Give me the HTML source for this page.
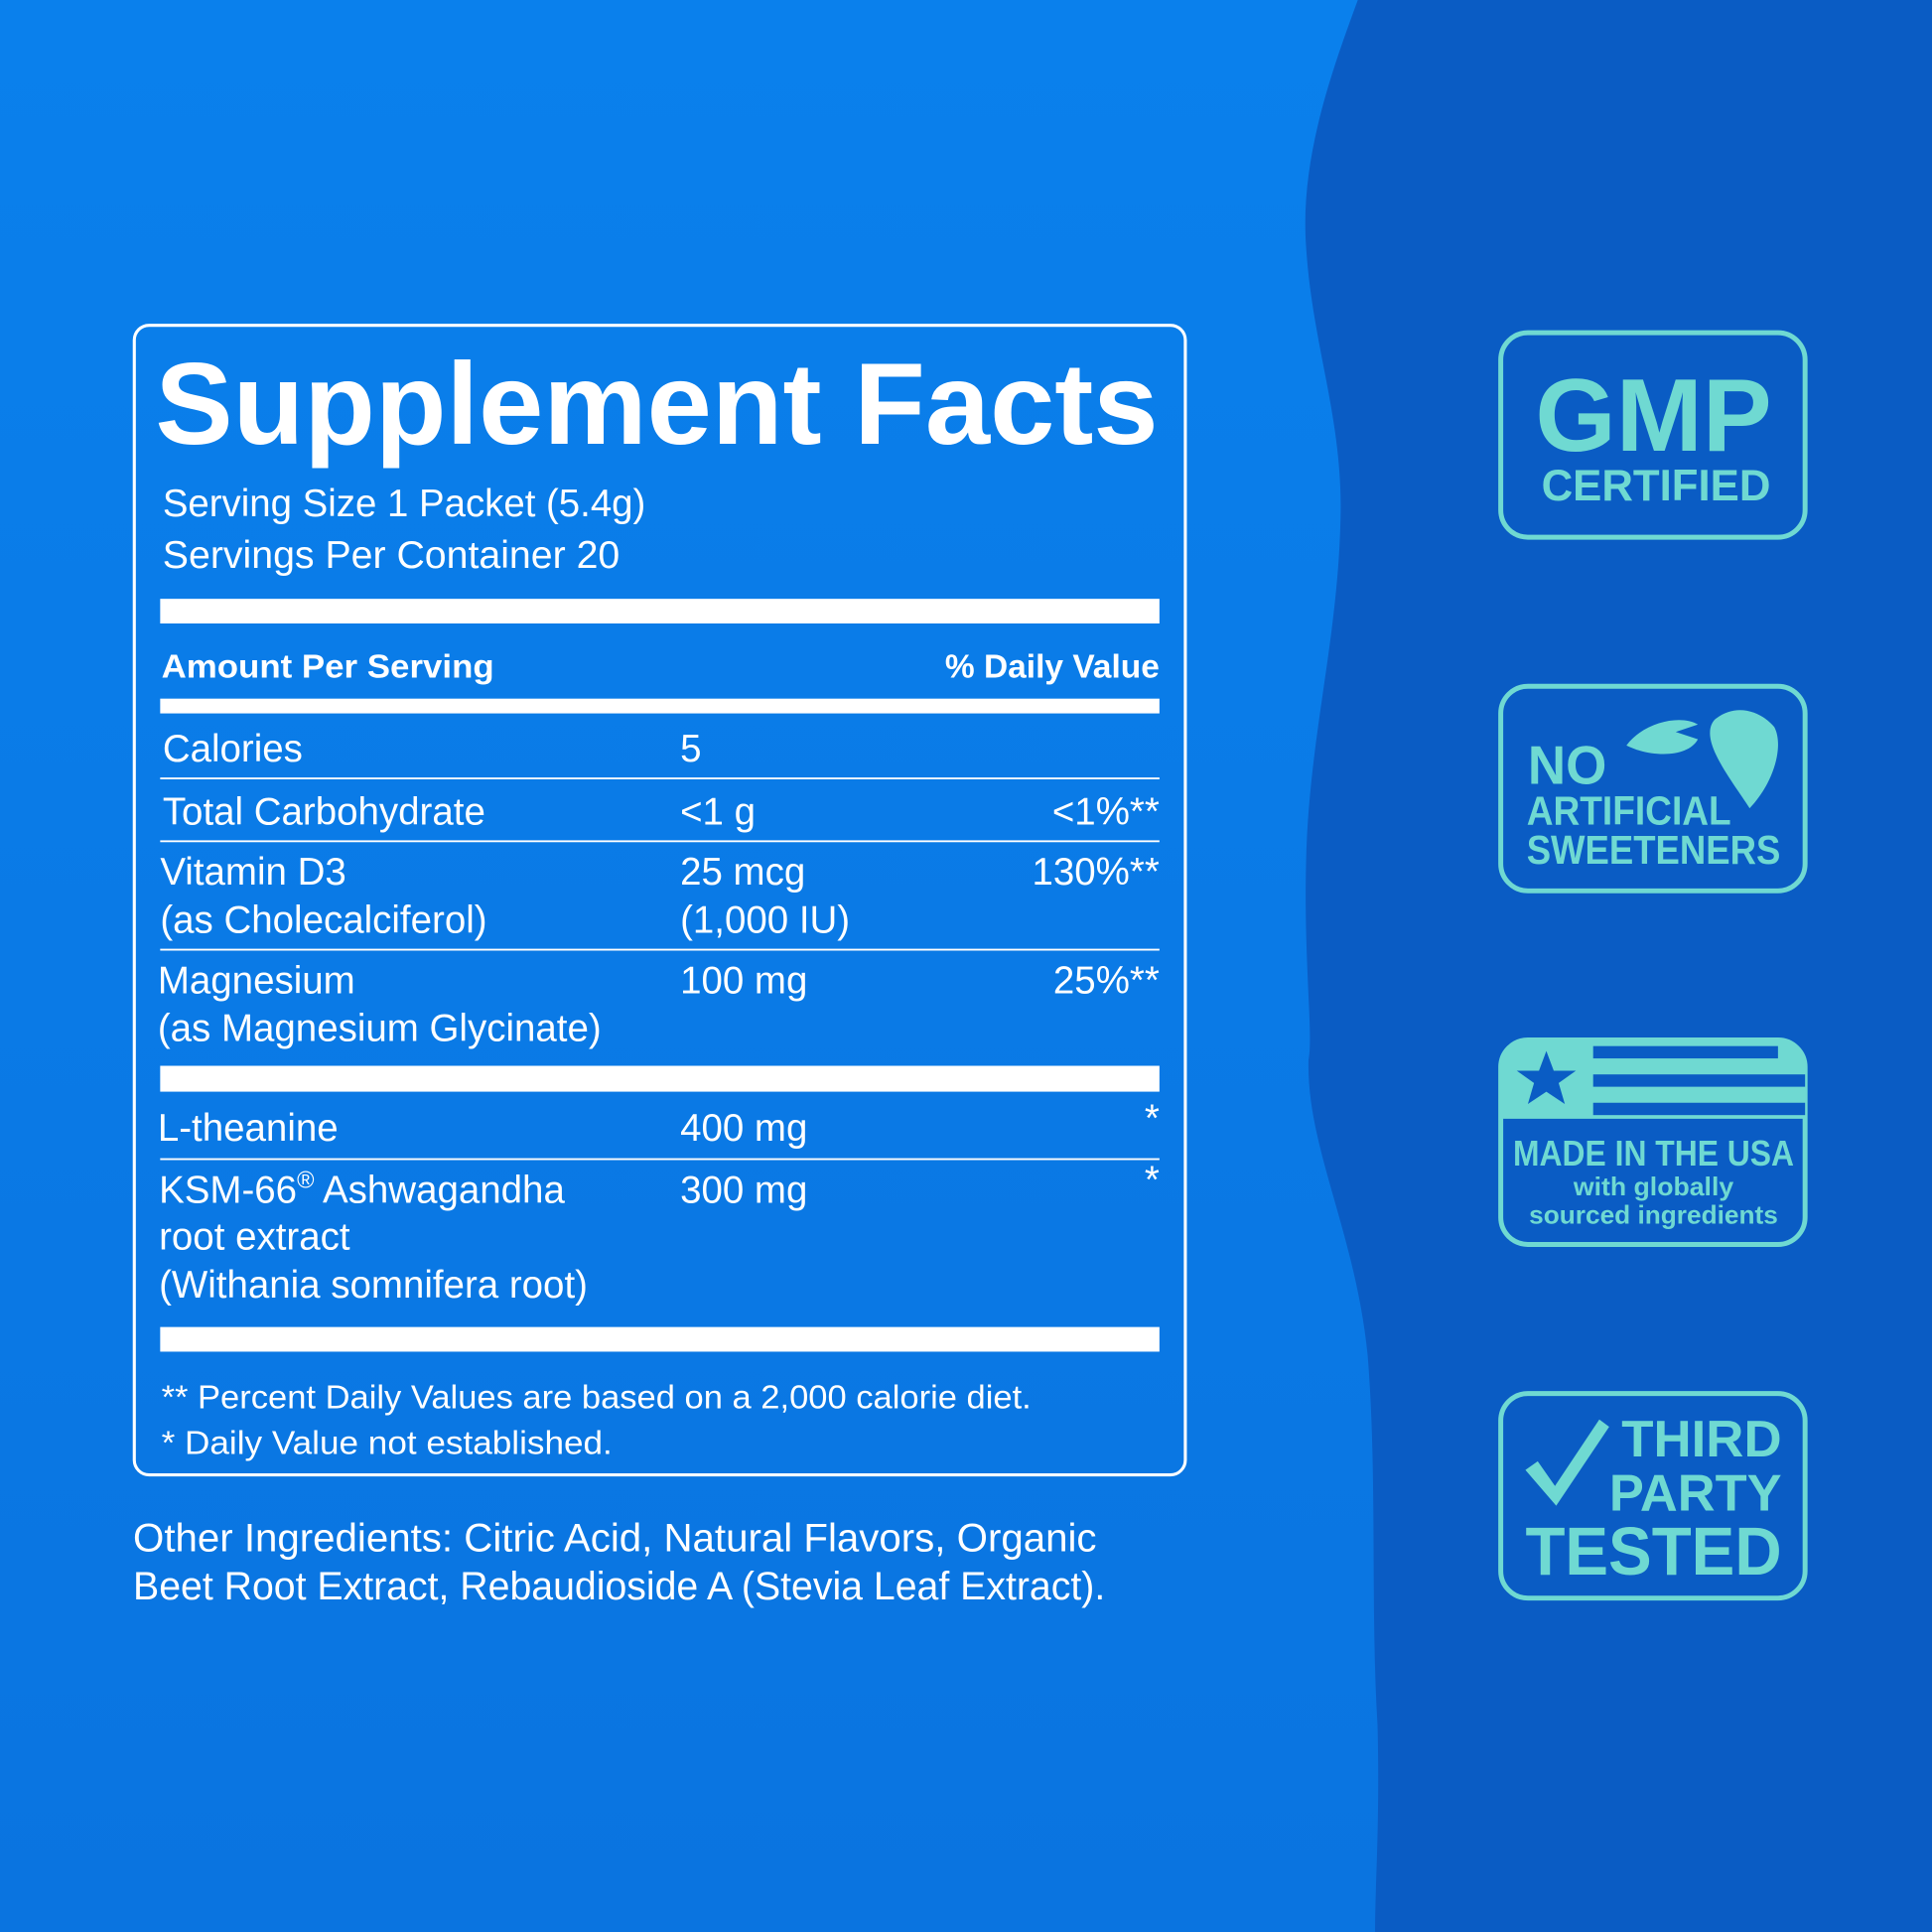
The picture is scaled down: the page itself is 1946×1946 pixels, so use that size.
<!DOCTYPE html>
<html><head><meta charset="utf-8"><style>
html,body{margin:0;padding:0;width:1946px;height:1946px;overflow:hidden;background:#0a7ce8}
svg{display:block}
text{font-family:"Liberation Sans",sans-serif}
</style></head><body>
<svg width="1946" height="1946" viewBox="0 0 1568 1568" xmlns="http://www.w3.org/2000/svg">
<defs>
<linearGradient id="bg" x1="0" y1="0" x2="0" y2="1">
<stop offset="0" stop-color="#0a80ec"/><stop offset="1" stop-color="#0a74e0"/>
</linearGradient>
</defs>
<rect width="1568" height="1568" fill="url(#bg)"/>
<path d="M1102 0 C1080 60 1055 130 1060 200 C1065 280 1090 340 1088 420 C1086 520 1062 600 1060 700 C1058 780 1066 840 1062 860 C1060 930 1100 1000 1110 1100 C1118 1200 1112 1300 1118 1400 C1120 1480 1116 1530 1116 1568 L1568 1568 L1568 0 Z" fill="#0a5cc4"/>
<g fill="#fff">
<rect x="109" y="264" width="853" height="933" rx="12" fill="none" stroke="#fff" stroke-width="2.5"/>
<text x="126" y="360" font-size="94" font-weight="bold" textLength="814" lengthAdjust="spacingAndGlyphs">Supplement Facts</text>
<text x="132" y="419" font-size="31" textLength="392" lengthAdjust="spacingAndGlyphs">Serving Size 1 Packet (5.4g)</text>
<text x="132" y="461" font-size="31" textLength="371" lengthAdjust="spacingAndGlyphs">Servings Per Container 20</text>
<rect x="130" y="486" width="811" height="20"/>
<text x="131" y="550" font-size="27" font-weight="bold" textLength="270" lengthAdjust="spacingAndGlyphs">Amount Per Serving</text>
<text x="941" y="550" font-size="27" font-weight="bold" text-anchor="end">% Daily Value</text>
<rect x="130" y="567" width="811" height="12"/>
<g font-size="31">
<text x="132" y="618">Calories</text><text x="552" y="618">5</text>
<rect x="130" y="631" width="811" height="1.5"/>
<text x="132" y="669">Total Carbohydrate</text><text x="552" y="669">&lt;1 g</text><text x="941" y="669" text-anchor="end">&lt;1%**</text>
<rect x="130" y="682" width="811" height="1.5"/>
<text x="130" y="718">Vitamin D3</text><text x="130" y="757">(as Cholecalciferol)</text>
<text x="552" y="718">25 mcg</text><text x="552" y="757">(1,000 IU)</text><text x="941" y="718" text-anchor="end">130%**</text>
<rect x="130" y="770" width="811" height="1.5"/>
<text x="128" y="806">Magnesium</text><text x="128" y="845">(as Magnesium Glycinate)</text>
<text x="552" y="806">100 mg</text><text x="941" y="806" text-anchor="end">25%**</text>
<rect x="130" y="865" width="811" height="21"/>
<text x="128" y="926">L-theanine</text><text x="552" y="926">400 mg</text><text x="941" y="918" text-anchor="end">*</text>
<rect x="130" y="940" width="811" height="1.5"/>
<text x="129" y="976">KSM-66<tspan font-size="19" dy="-12">®</tspan><tspan dy="12"> Ashwagandha</tspan></text>
<text x="129" y="1014">root extract</text><text x="129" y="1053">(Withania somnifera root)</text>
<text x="552" y="976">300 mg</text><text x="941" y="968" text-anchor="end">*</text>
</g>
<rect x="130" y="1077" width="811" height="20"/>
<text x="131" y="1143" font-size="27" textLength="706" lengthAdjust="spacingAndGlyphs">** Percent Daily Values are based on a 2,000 calorie diet.</text>
<text x="131" y="1180" font-size="27" textLength="366" lengthAdjust="spacingAndGlyphs">* Daily Value not established.</text>
<text x="108" y="1259" font-size="32" textLength="782" lengthAdjust="spacingAndGlyphs">Other Ingredients: Citric Acid, Natural Flavors, Organic</text>
<text x="108" y="1298" font-size="32" textLength="789" lengthAdjust="spacingAndGlyphs">Beet Root Extract, Rebaudioside A (Stevia Leaf Extract).</text>
</g>
<g fill="#6fd9d2" stroke="none" font-weight="bold">
<rect x="1218" y="270" width="247" height="166" rx="22" fill="none" stroke="#6fd9d2" stroke-width="4"/>
<text x="1342" y="366" font-size="84" text-anchor="middle" textLength="192" lengthAdjust="spacingAndGlyphs">GMP</text>
<text x="1344" y="406" font-size="36" text-anchor="middle" textLength="186" lengthAdjust="spacingAndGlyphs">CERTIFIED</text>

<rect x="1218" y="557" width="247" height="166" rx="22" fill="none" stroke="#6fd9d2" stroke-width="4"/>
<text x="1240" y="636" font-size="44" textLength="64" lengthAdjust="spacingAndGlyphs">NO</text>
<text x="1239" y="669" font-size="33" textLength="166" lengthAdjust="spacingAndGlyphs">ARTIFICIAL</text>
<text x="1239" y="701" font-size="33" textLength="206" lengthAdjust="spacingAndGlyphs">SWEETENERS</text>
<path d="M1320 605 C1335 585 1365 580 1378 588 L1360 594 L1378 600 C1370 615 1340 615 1320 605 Z"/>
<path d="M1393 583 C1410 570 1430 578 1440 590 C1448 605 1440 635 1420 656 C1410 640 1390 615 1388 598 C1387 590 1390 585 1393 583 Z"/>

<rect x="1218" y="844" width="247" height="166" rx="22" fill="none" stroke="#6fd9d2" stroke-width="4"/>
<path d="M1240 844 L1443 844 Q1465 844 1465 866 L1465 908 L1218 908 L1218 866 Q1218 844 1240 844 Z"/>
<g fill="#0a5cc4">
<rect x="1293" y="849" width="150" height="10"/>
<rect x="1293" y="872" width="172" height="10"/>
<rect x="1293" y="895" width="172" height="10"/>
<polygon points="1255,853 1261,869 1279,869 1265,879 1270,896 1255,886 1240,896 1245,879 1231,869 1249,869"/>
</g>
<text x="1342" y="946" font-size="29" text-anchor="middle" textLength="228" lengthAdjust="spacingAndGlyphs">MADE IN THE USA</text>
<text x="1342" y="970" font-size="21" text-anchor="middle" textLength="130" lengthAdjust="spacingAndGlyphs">with globally</text>
<text x="1342" y="993" font-size="21" text-anchor="middle" textLength="202" lengthAdjust="spacingAndGlyphs">sourced ingredients</text>

<rect x="1218" y="1131" width="247" height="166" rx="22" fill="none" stroke="#6fd9d2" stroke-width="4"/>
<path d="M1238 1193 L1248 1186 L1262 1206 L1298 1152 L1306 1158 L1263 1222 Z"/>
<text x="1446" y="1182" font-size="42" text-anchor="end" textLength="130" lengthAdjust="spacingAndGlyphs">THIRD</text>
<text x="1446" y="1226" font-size="42" text-anchor="end" textLength="140" lengthAdjust="spacingAndGlyphs">PARTY</text>
<text x="1446" y="1278" font-size="55" text-anchor="end" textLength="208" lengthAdjust="spacingAndGlyphs">TESTED</text>
</g>
</svg>
</body></html>
